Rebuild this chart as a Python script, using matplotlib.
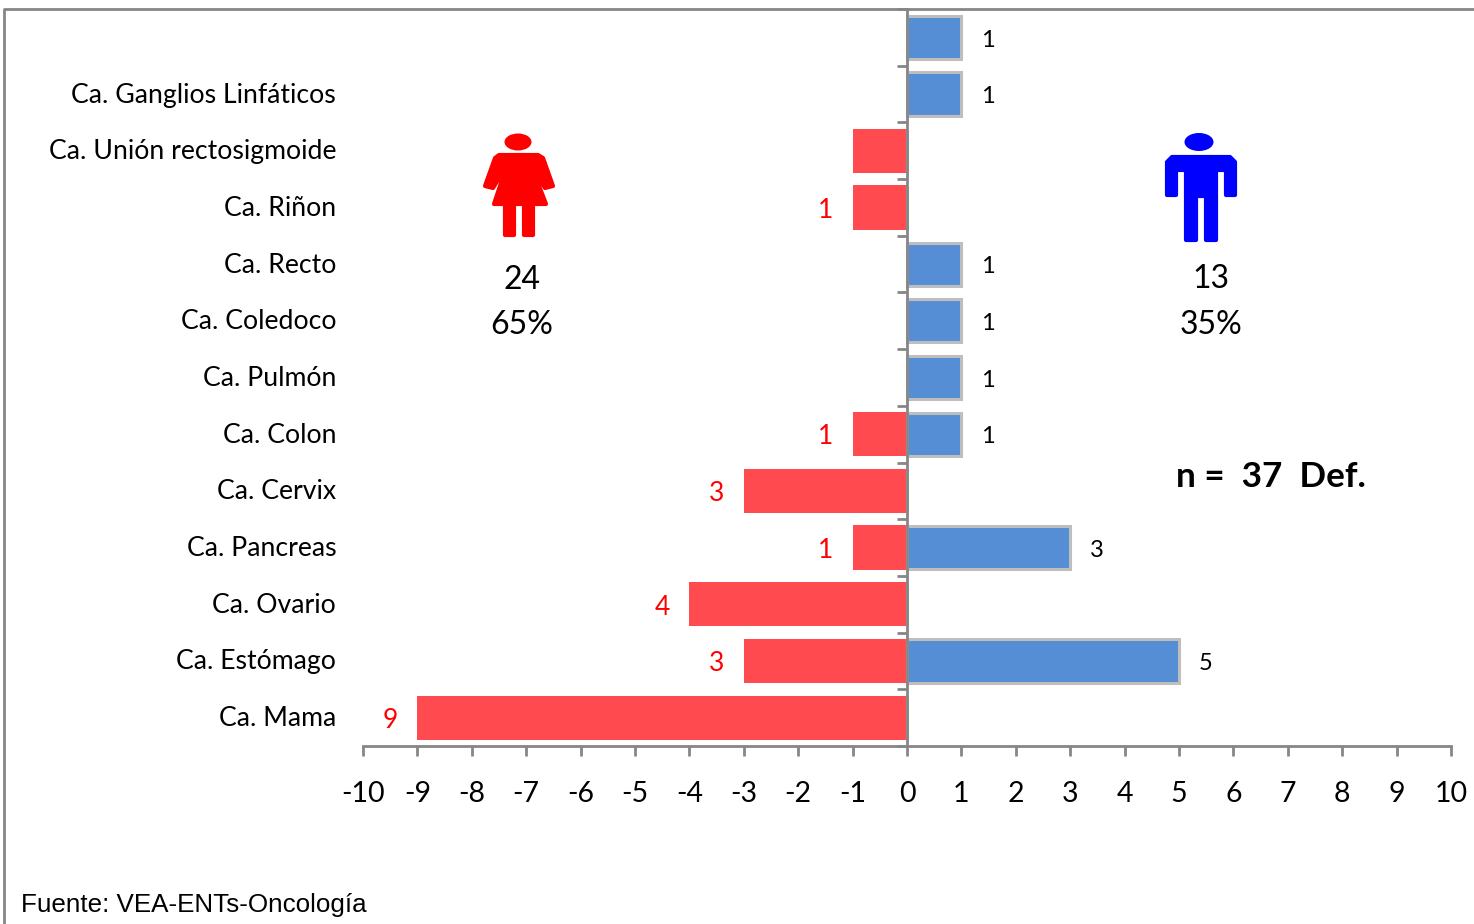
import matplotlib
matplotlib.use("Agg")
import matplotlib.pyplot as plt
from matplotlib.patches import Ellipse, Polygon
from matplotlib.ticker import FixedLocator
from matplotlib.transforms import ScaledTranslation
import numpy as np

plt.rcParams["font.family"] = ["Lato", "DejaVu Sans"]

categories = [
    "Ca. Mama", "Ca. Estómago", "Ca. Ovario", "Ca. Pancreas", "Ca. Cervix",
    "Ca. Colon", "Ca. Pulmón", "Ca. Coledoco", "Ca. Recto", "Ca. Riñon",
    "Ca. Unión rectosigmoide", "Ca. Ganglios Linfáticos", "",
]
mujeres = [9, 3, 4, 1, 3, 1, 0, 0, 0, 1, 1, 0, 0]
hombres = [0, 5, 0, 3, 0, 1, 1, 1, 1, 0, 0, 1, 1]
# la barra de Unión rectosigmoide no lleva etiqueta en el original
mujeres_etiqueta = ["9", "3", "4", "1", "3", "1", "", "", "", "1", "", "", ""]
x_ticks = list(range(-10, 11))

W, H = 1474, 924
GRIS = "#868686"
ROJO = "#FF4B4F"
AZUL = "#558ED5"

fig = plt.figure(figsize=(W / 100, H / 100), dpi=100)
ax = fig.add_axes([363 / W, 1 - 746 / H, (1451 - 363) / W, (746 - 9) / H])

y = np.arange(len(categories))
ax.barh(y, [-v for v in mujeres], height=0.78, color=ROJO, zorder=2)
ax.barh(
    y,
    hombres,
    height=0.76,
    color=AZUL,
    edgecolor="#BEBEBE",
    linewidth=2.2,
    zorder=2,
)
ax.set_xlim(-10, 10)
ax.set_ylim(-0.5, len(categories) - 0.5)

for yi, txt, v in zip(y, mujeres_etiqueta, mujeres):
    if txt:
        ax.annotate(
            txt, (-v, yi), xytext=(-14, -2), textcoords="offset points",
            ha="right", va="center", color="#FF0000", fontsize=19,
        )
for yi, v in zip(y, hombres):
    if v:
        ax.annotate(
            str(v), (v, yi), xytext=(14, -2), textcoords="offset points",
            ha="left", va="center", color="black", fontsize=17,
        )

for s in ["top", "right"]:
    ax.spines[s].set_visible(False)
ax.spines["left"].set_position(("data", 0))
for s in ["left", "bottom"]:
    ax.spines[s].set_color(GRIS)
    ax.spines[s].set_linewidth(2)
    ax.spines[s].set_zorder(3)

ax.set_xticks(x_ticks)
ax.set_xticklabels(x_ticks)
ax.tick_params(axis="x", length=7, width=2, color=GRIS, labelsize=20.5, pad=18)

# marcas entre categorias, etiquetas centradas en cada fila
ax.yaxis.set_major_locator(FixedLocator(np.arange(len(categories) + 1) - 0.5))
ax.yaxis.set_major_formatter(plt.NullFormatter())
ax.set_yticks(y, minor=True)
labels = ax.set_yticklabels(categories, minor=True, fontsize=19.2)
ax.tick_params(axis="y", which="major", length=7, width=2, color=GRIS)
ax.tick_params(axis="y", which="minor", length=0, pad=411)
for lbl in labels:
    lbl.set_transform(lbl.get_transform() + ScaledTranslation(0, 1.5 / 100, fig.dpi_scale_trans))

# capa en pixeles para marco, iconos y textos libres
ov = fig.add_axes([0, 0, 1, 1], zorder=5)
ov.set_xlim(0, W)
ov.set_ylim(H, 0)
ov.axis("off")
ov.plot([4, 4, W], [H, 9, 9], color=GRIS, lw=2, solid_capstyle="butt")


def icon_poly(a, pts, color):
    # borde del mismo color con union redonda para suavizar las esquinas
    a.add_patch(
        Polygon(pts, closed=True, facecolor=color, edgecolor=color, lw=3, joinstyle="round")
    )


def woman(a, color):
    a.add_patch(Ellipse((518, 142), 27, 17, color=color, lw=0))
    icon_poly(
        a,
        [
            (499, 155), (538, 155), (543, 158), (553, 186), (545, 188), (531, 165),
            (546, 204), (494, 204), (507, 165), (493, 188), (485, 186), (495, 158),
        ],
        color,
    )
    icon_poly(a, [(505, 204), (514, 204), (514, 235), (505, 235)], color)
    icon_poly(a, [(524, 204), (533, 204), (533, 235), (524, 235)], color)


def man(a, color):
    a.add_patch(Ellipse((1199, 142), 29, 18, color=color, lw=0))
    icon_poly(
        a,
        [
            (1172, 157), (1230, 157), (1235, 162), (1235, 195), (1226, 195),
            (1226, 170), (1216, 170), (1216, 240), (1206, 240), (1206, 196),
            (1196, 196), (1196, 240), (1186, 240), (1186, 170), (1176, 170),
            (1176, 195), (1167, 195), (1167, 162),
        ],
        color,
    )


woman(ov, "#FF0000")
man(ov, "#0000FF")

ov.text(522, 280, "24", ha="center", va="center", fontsize=23, color="black")
ov.text(522, 325, "65%", ha="center", va="center", fontsize=23, color="black")
ov.text(1211, 279, "13", ha="center", va="center", fontsize=23, color="black")
ov.text(1211, 325, "35%", ha="center", va="center", fontsize=23, color="black")
ov.text(1176, 477, "n =  37  Def.", ha="left", va="center", fontsize=25.3, fontweight="bold")
ov.text(
    21, 905, "Fuente: VEA-ENTs-Oncología", ha="left", va="center",
    fontsize=18.7, family=["Liberation Sans"],
)

fig.savefig("out.png", dpi=100)
